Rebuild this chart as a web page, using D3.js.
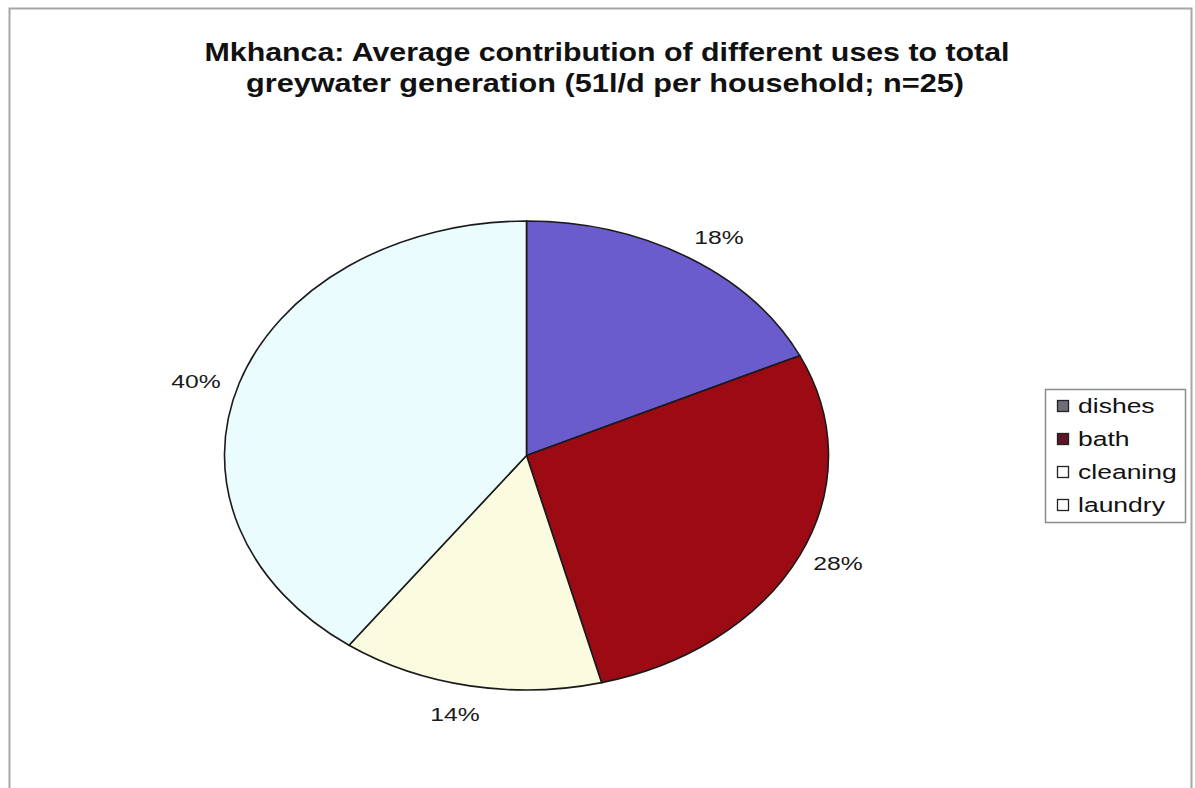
<!DOCTYPE html>
<html>
<head>
<meta charset="utf-8">
<script src="https://cdn.jsdelivr.net/npm/d3@7"></script>
<style>
  html, body { margin: 0; padding: 0; background: #ffffff; }
  svg { display: block; font-family: "Liberation Sans", Arial, sans-serif; }
</style>
</head>
<body>
<svg id="chart" width="1195" height="788"></svg>
<script>
// Greywater uses and their share of the total (percent)
const categories = ["dishes", "bath", "cleaning", "laundry"];
const shares = [18, 28, 14, 40];
const sliceColors = ["#6a5ccc", "#9c0a14", "#fbfbdf", "#eafcfd"];
const legendSwatches = ["#6e6e78", "#5e1426", "#ffffff", "#ffffff"];
const titleLines = [
  "Mkhanca: Average contribution of different uses to total",
  "greywater generation (51l/d per household; n=25)"
];

const svg = d3.select("#chart");
const H = 788;
const stretchX = 1.3; // the whole chart is drawn wider than tall

// outer chart frame (open at the bottom edge of the page)
svg.append("path")
  .attr("d", `M9.5,${H + 2} V8.5 H1191.5 V${H + 2}`)
  .attr("fill", "none")
  .attr("stroke", "#a6a6a6")
  .attr("stroke-width", 2);

// title
const titleWidths = [805, 718];
svg.append("g").selectAll("text")
  .data(titleLines)
  .join("text")
  .attr("x", (d, i) => [607, 605][i] - titleWidths[i] / 2)
  .attr("y", (d, i) => 61 + i * 31)
  .attr("textLength", (d, i) => titleWidths[i])
  .attr("lengthAdjust", "spacingAndGlyphs")
  .attr("font-size", 26)
  .attr("font-weight", "bold")
  .attr("fill", "#111")
  .text(d => d);

// elliptical pie: unit-circle arcs scaled to the ellipse radii
const cx = 526.5, cy = 455.5, rx = 302, ry = 234.5;
const data = categories.map((c, i) => ({ name: c, value: shares[i], color: sliceColors[i] }));
const pie = d3.pie().value(d => d.value).sort(null);
const arcs = pie(data);
const R = 100;
const arc = d3.arc().innerRadius(0).outerRadius(R);

const pieG = svg.append("g")
  .attr("transform", `translate(${cx},${cy}) scale(${rx / R},${ry / R})`);

pieG.selectAll("path")
  .data(arcs)
  .join("path")
  .attr("d", arc)
  .attr("fill", d => d.data.color)
  .attr("stroke", "#1a1a1a")
  .attr("stroke-width", 1.6)
  .attr("vector-effect", "non-scaling-stroke");

// percentage labels outside each slice
const labelOffsets = [
  { dx: 8, dy: 7 }, { dx: 0, dy: -6 }, { dx: -7, dy: -4 }, { dx: -3, dy: 8 }
];
const labelR = 1.14;
svg.append("g").selectAll("text")
  .data(arcs)
  .join("text")
  .attr("transform", (d, i) => {
    const a = (d.startAngle + d.endAngle) / 2;
    const x = cx + Math.sin(a) * rx * labelR + labelOffsets[i].dx;
    const y = cy - Math.cos(a) * ry * labelR + labelOffsets[i].dy + 7;
    return `translate(${x},${y}) scale(${stretchX},1)`;
  })
  .attr("text-anchor", "middle")
  .attr("font-size", 19)
  .attr("fill", "#1a1a1a")
  .text(d => d.data.value + "%");

// legend
const legend = svg.append("g");
legend.append("rect")
  .attr("x", 1045.5).attr("y", 389.5)
  .attr("width", 140).attr("height", 133)
  .attr("fill", "#fff")
  .attr("stroke", "#8c8c8c")
  .attr("stroke-width", 1.5);

const items = legend.selectAll("g.item")
  .data(categories)
  .join("g")
  .attr("class", "item")
  .attr("transform", (d, i) => `translate(1057,${406 + i * 33})`);

items.append("rect")
  .attr("x", 0.5).attr("y", -5.5)
  .attr("width", 11).attr("height", 11)
  .attr("fill", (d, i) => legendSwatches[i])
  .attr("stroke", "#222")
  .attr("stroke-width", 1.3);

items.append("text")
  .attr("transform", `translate(21,7) scale(1.36,1)`)
  .attr("font-size", 19.5)
  .attr("fill", "#111")
  .text(d => d);
</script>
</body>
</html>
